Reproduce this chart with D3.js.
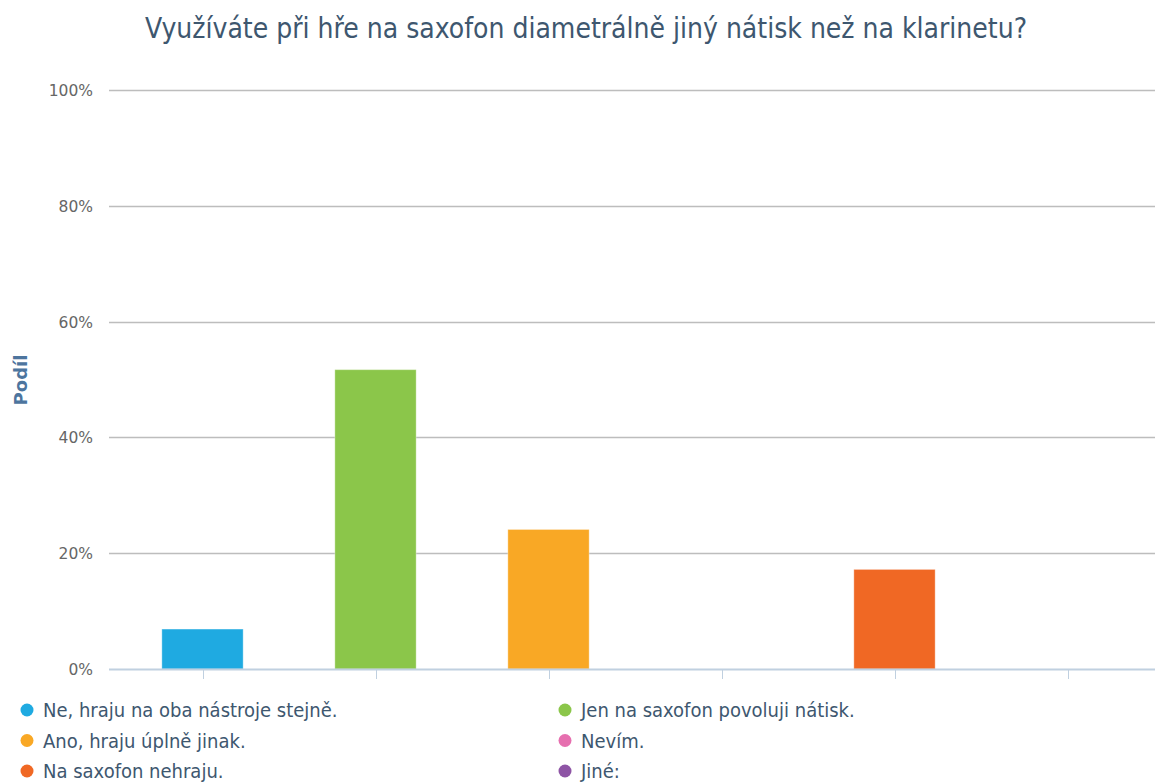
<!DOCTYPE html>
<html>
<head>
<meta charset="utf-8">
<script src="https://cdn.jsdelivr.net/npm/d3@7/dist/d3.min.js"></script>
<style>
  html, body { margin: 0; padding: 0; background: #fff; }
  svg { display: block; }
  .cond { font-family: "DejaVu Sans Condensed", "DejaVu Sans", sans-serif; font-stretch: condensed; }
</style>
</head>
<body>
<svg id="chart" width="1155" height="784"></svg>
<script>
// Survey answers and their share of respondents (%)
const categories = [
  "Ne, hraju na oba nástroje stejně.",
  "Jen na saxofon povoluji nátisk.",
  "Ano, hraju úplně jinak.",
  "Nevím.",
  "Na saxofon nehraju.",
  "Jiné:"
];
const shares = [6.9, 51.7, 24.1, 0, 17.2, 0];
const colors = ["#1faae1", "#8bc64a", "#f9a825", "#e66faf", "#f06824", "#8e54a5"];
const yTicks = [0, 20, 40, 60, 80, 100];
const legendOrder = [0, 1, 2, 3, 4, 5];

const svg = d3.select("#chart");

const plot = { left: 109, right: 1155, top: 90, bottom: 669 };

const x = d3.scaleBand()
  .domain(categories)
  .range([116, 1154])
  .paddingInner(0.53)
  .paddingOuter(0.265);

const y = d3.scaleLinear().domain([0, 100]).range([plot.bottom, plot.top]);

// Title
svg.append("text")
  .attr("class", "cond")
  .attr("x", 586).attr("y", 38)
  .attr("text-anchor", "middle")
  .attr("font-size", 28)
  .attr("fill", "#3e576f")
  .text("Využíváte při hře na saxofon diametrálně jiný nátisk než na klarinetu?");

// Horizontal gridlines
svg.append("g").selectAll("line")
  .data(yTicks.filter(d => d > 0))
  .join("line")
  .attr("x1", plot.left).attr("x2", plot.right)
  .attr("y1", d => Math.round(y(d)) + 0.5).attr("y2", d => Math.round(y(d)) + 0.5)
  .attr("stroke", "#bdbdbd").attr("stroke-width", 1.3);

// Y axis labels
const yAxis = d3.axisLeft(y).tickValues(yTicks).tickSize(0).tickPadding(0)
  .tickFormat(d => d + "%");
svg.append("g")
  .attr("transform", `translate(93,0)`)
  .call(yAxis)
  .call(g => g.select(".domain").remove())
  .call(g => g.selectAll("text")
    .attr("font-family", "DejaVu Sans, sans-serif")
    .attr("font-size", 15.5)
    .attr("fill", "#666")
    .attr("dy", "0.35em"));

// Y axis title
svg.append("text")
  .attr("transform", "translate(21,380) rotate(-90)")
  .attr("text-anchor", "middle")
  .attr("dy", "0.35em")
  .attr("font-family", "DejaVu Sans, sans-serif")
  .attr("font-weight", "bold")
  .attr("font-size", 18)
  .attr("fill", "#4d759e")
  .text("Podíl");

// Bars
svg.append("g").selectAll("rect")
  .data(categories)
  .join("rect")
  .attr("x", d => x(d))
  .attr("width", x.bandwidth())
  .attr("y", (d, i) => y(shares[i]))
  .attr("height", (d, i) => y(0) - y(shares[i]))
  .attr("fill", (d, i) => colors[i])
  .attr("stroke", "#fff").attr("stroke-opacity", 0.35).attr("stroke-width", 1);

// X axis line and ticks at category centres
const xAxisG = svg.append("g");
xAxisG.append("line")
  .attr("x1", plot.left).attr("x2", plot.right)
  .attr("y1", plot.bottom + 0.5).attr("y2", plot.bottom + 0.5)
  .attr("stroke", "#c0d0e0").attr("stroke-width", 2);
xAxisG.selectAll(".tick")
  .data(categories)
  .join("line")
  .attr("class", "tick")
  .attr("x1", d => Math.round(x(d) + x.bandwidth() / 2) + 0.5)
  .attr("x2", d => Math.round(x(d) + x.bandwidth() / 2) + 0.5)
  .attr("y1", plot.bottom).attr("y2", plot.bottom + 10)
  .attr("stroke", "#c0d0e0").attr("stroke-width", 1);

// Legend: two columns, filled down by rows
const legend = svg.append("g");
const item = legend.selectAll("g")
  .data(legendOrder)
  .join("g")
  .attr("transform", i => {
    const col = i % 2, row = Math.floor(i / 2);
    return `translate(${col === 0 ? 27 : 565},${710 + row * 30.5})`;
  });
item.append("circle")
  .attr("r", 6.5)
  .attr("fill", i => colors[i]);
item.append("text")
  .attr("class", "cond")
  .attr("x", 16).attr("y", 0)
  .attr("dy", "0.36em")
  .attr("font-size", 20)
  .attr("fill", "#3e576f")
  .text(i => categories[i]);
</script>
</body>
</html>
